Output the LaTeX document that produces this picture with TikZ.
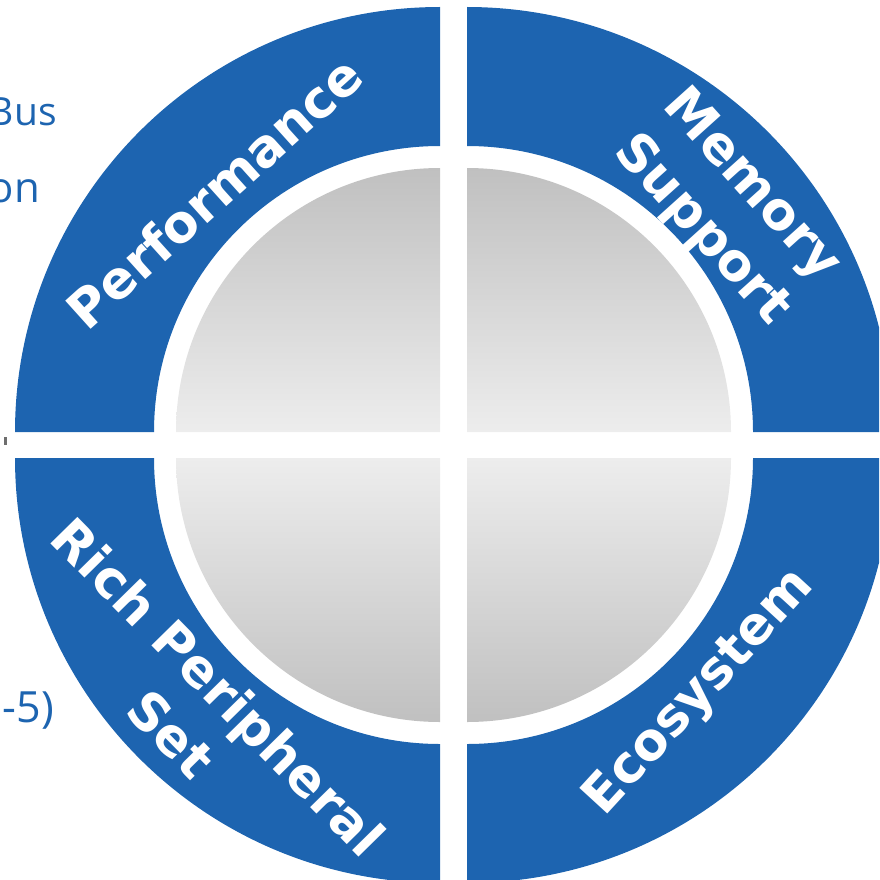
\documentclass[tikz,border=0pt]{standalone}
\usepackage{fontspec}
\newfontfamily\labelfont{DejaVu Sans}
\newfontfamily\sidefont{Open Sans}
\definecolor{ringblue}{RGB}{29,100,176}
\definecolor{discdark}{RGB}{192,192,192}
\definecolor{disclight}{RGB}{237,237,237}
\definecolor{tickgray}{RGB}{110,110,110}
\begin{document}
\begin{tikzpicture}[x=1pt,y=1pt,
  band/.style={fill=ringblue},
  discup/.style={top color=discdark, bottom color=disclight},
  discdown/.style={top color=disclight, bottom color=discdark},
  ringlabel/.style={text=white, font=\labelfont\bfseries\fontsize{52}{67}\selectfont, align=center, inner sep=0pt},
  sidetext/.style={text=ringblue, font=\sidefont\fontsize{39}{44}\selectfont, anchor=base east, inner sep=0pt}]
\useasboundingbox (0,0) rectangle (879,-880);
\clip (0,0) rectangle (879,-880);

% quadrant corners
\coordinate (ctl) at (440,-432);
\coordinate (ctr) at (467,-432);
\coordinate (cbl) at (440,-458);
\coordinate (cbr) at (467,-458);

% top-left quadrant
\fill[band] (440,-7) arc[start angle=90,end angle=180,radius=425] -- (154,-432) arc[start angle=180,end angle=90,radius=286] -- cycle;
\shade[discup] (ctl) -- (440,-168) arc[start angle=90,end angle=180,radius=264] -- cycle;

% top-right quadrant
\fill[band] (467,-7) arc[start angle=90,end angle=0,radius=425] -- (753,-432) arc[start angle=0,end angle=90,radius=286] -- cycle;
\shade[discup] (ctr) -- (467,-168) arc[start angle=90,end angle=0,radius=264] -- cycle;

% bottom-left quadrant
\fill[band] (15,-458) arc[start angle=180,end angle=270,radius=425] -- (440,-744) arc[start angle=270,end angle=180,radius=286] -- cycle;
\shade[discdown] (cbl) -- (176,-458) arc[start angle=180,end angle=270,radius=264] -- cycle;

% bottom-right quadrant
\fill[band] (467,-883) arc[start angle=270,end angle=360,radius=425] -- (753,-458) arc[start angle=360,end angle=270,radius=286] -- cycle;
\shade[discdown] (cbr) -- (731,-458) arc[start angle=0,end angle=-90,radius=264] -- cycle;

% ring labels
\node[ringlabel, rotate=42] (perf) at (214,-192) {Performance};
\node[ringlabel, rotate=-48] (mem) at (726,-208) {Memory\\Support};
\node[ringlabel, rotate=-45.5] (rich) at (195,-710) {Rich Peripheral\\Set};
\node[ringlabel, rotate=47.5] (eco) at (700,-693) {Ecosystem};

% cut-off side texts
\node[sidetext] (bus) at (57,-125) {Bus};
\node[sidetext, font=\sidefont\fontsize{42}{48}\selectfont] (on) at (40,-202) {on};
\node[sidetext, font=\sidefont\fontsize{43}{48}\selectfont] (five) at (54,-722) {-5)};
\fill[tickgray] (4,-437) rectangle (7,-445);
\end{tikzpicture}
\end{document}
